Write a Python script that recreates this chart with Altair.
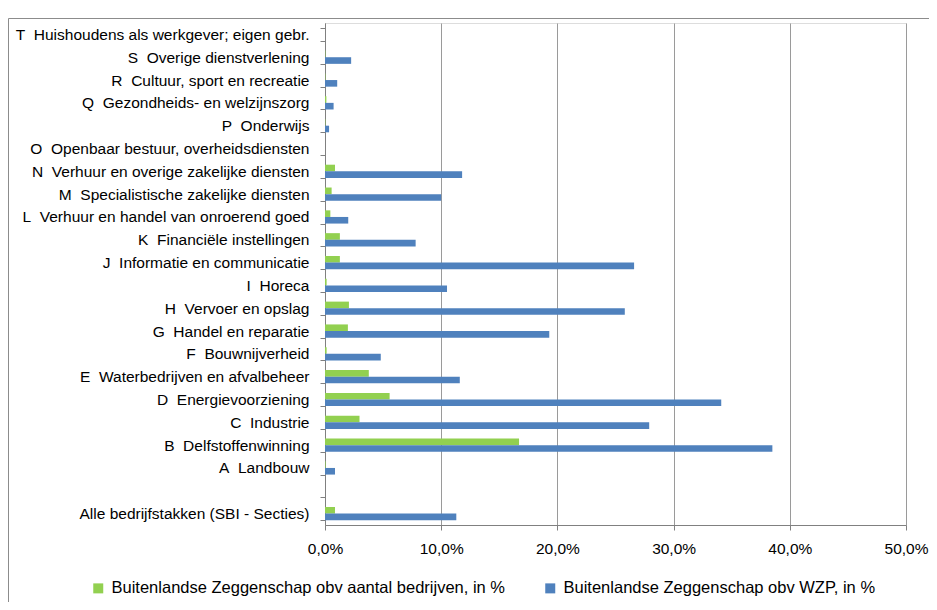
import altair as alt
import pandas as pd

categories = [
    "T\u00a0 Huishoudens als werkgever; eigen gebr.",
    "S\u00a0 Overige dienstverlening",
    "R\u00a0 Cultuur, sport en recreatie",
    "Q\u00a0 Gezondheids- en welzijnszorg",
    "P\u00a0 Onderwijs",
    "O\u00a0 Openbaar bestuur, overheidsdiensten",
    "N\u00a0 Verhuur en overige zakelijke diensten",
    "M\u00a0 Specialistische zakelijke diensten",
    "L\u00a0 Verhuur en handel van onroerend goed",
    "K\u00a0 Financiële instellingen",
    "J\u00a0 Informatie en communicatie",
    "I\u00a0 Horeca",
    "H\u00a0 Vervoer en opslag",
    "G\u00a0 Handel en reparatie",
    "F\u00a0 Bouwnijverheid",
    "E\u00a0 Waterbedrijven en afvalbeheer",
    "D\u00a0 Energievoorziening",
    "C\u00a0 Industrie",
    "B\u00a0 Delfstoffenwinning",
    "A\u00a0 Landbouw",
    " ",
    "Alle bedrijfstakken (SBI - Secties)",
]

# Buitenlandse Zeggenschap obv aantal bedrijven, in %
green_values = [0.0, 0.03, 0.03, 0.12, 0.03, 0.0, 0.86, 0.57, 0.46, 1.28, 1.28, 0.14,
                2.06, 1.97, 0.14, 3.77, 5.56, 2.97, 16.7, 0.05, None, 0.86]
# Buitenlandse Zeggenschap obv WZP, in %
blue_values = [0.0, 2.25, 1.05, 0.74, 0.35, 0.0, 11.8, 10.0, 2.0, 7.8, 26.6, 10.5,
               25.8, 19.3, 4.8, 11.6, 34.1, 27.9, 38.5, 0.86, None, 11.3]

series_names = [
    "Buitenlandse Zeggenschap obv aantal bedrijven, in %",
    "Buitenlandse Zeggenschap obv WZP, in %",
]
series_colors = ["#92D050", "#4F81BD"]
x_ticks = [0, 10, 20, 30, 40, 50]

rows = []
for c, g, b in zip(categories, green_values, blue_values):
    rows.append({"cat": c, "serie": series_names[0], "val": g})
    rows.append({"cat": c, "serie": series_names[1], "val": b})
df = pd.DataFrame(rows)

W, H = 581, 502
LEFT = 317
FONT = "Liberation Sans"

bars = alt.Chart(df).mark_bar().encode(
    y=alt.Y(
        "cat:N",
        sort=categories,
        scale=alt.Scale(domain=categories, paddingInner=0.42, paddingOuter=0.21),
        axis=alt.Axis(
            title=None,
            labelFont=FONT,
            labelFontSize=15.5,
            labelColor="#000000",
            labelPadding=11,
            labelLimit=400,
            tickSize=5,
            tickBand="extent",
            tickColor="#808080",
            domainColor="#808080",
            grid=False,
        ),
    ),
    x=alt.X(
        "val:Q",
        scale=alt.Scale(domain=[0, 50]),
        axis=alt.Axis(
            title=None,
            values=x_ticks,
            labelExpr="replace(format(datum.value, '.1f'), '.', ',') + '%'",
            labelFont=FONT,
            labelFontSize=15.5,
            labelColor="#000000",
            labelPadding=11,
            labelFlush=False,
            tickSize=5,
            tickColor="#808080",
            domainColor="#808080",
            grid=True,
            gridColor="#9a9a9a",
            gridWidth=1,
        ),
    ),
    yOffset=alt.YOffset(
        "serie:N",
        sort=series_names,
        scale=alt.Scale(domain=series_names, paddingInner=0, paddingOuter=0),
    ),
    color=alt.Color(
        "serie:N",
        sort=series_names,
        scale=alt.Scale(domain=series_names, range=series_colors),
        legend=alt.Legend(
            title=None,
            orient="none",
            legendX=-235,
            legendY=557,
            direction="horizontal",
            symbolType="square",
            symbolSize=100,
            symbolStrokeWidth=0,
            labelFont=FONT,
            labelFontSize=16.5,
            labelColor="#000000",
            labelOffset=5,
            labelLimit=600,
            columnPadding=36,
        ),
    ),
)

frame = alt.Chart(alt.Data(values=[{"f": 1}])).mark_rect(
    fillOpacity=0, stroke="#8c8c8c", strokeWidth=1
).encode(
    x=alt.value(-(LEFT - 0.5)), x2=alt.value(W + 200), y=alt.value(-4.5), y2=alt.value(H + 200)
)

chart = alt.layer(frame, bars).properties(
    width=W,
    height=H,
    autosize=alt.AutoSizeParams(type="none"),
    padding={"left": LEFT, "top": 15, "right": 921 - LEFT - W, "bottom": 77},
).configure_view(stroke="#595959", strokeWidth=1).configure(background="white")

chart.save("out.html", embed_options={"renderer": "svg", "actions": False})
